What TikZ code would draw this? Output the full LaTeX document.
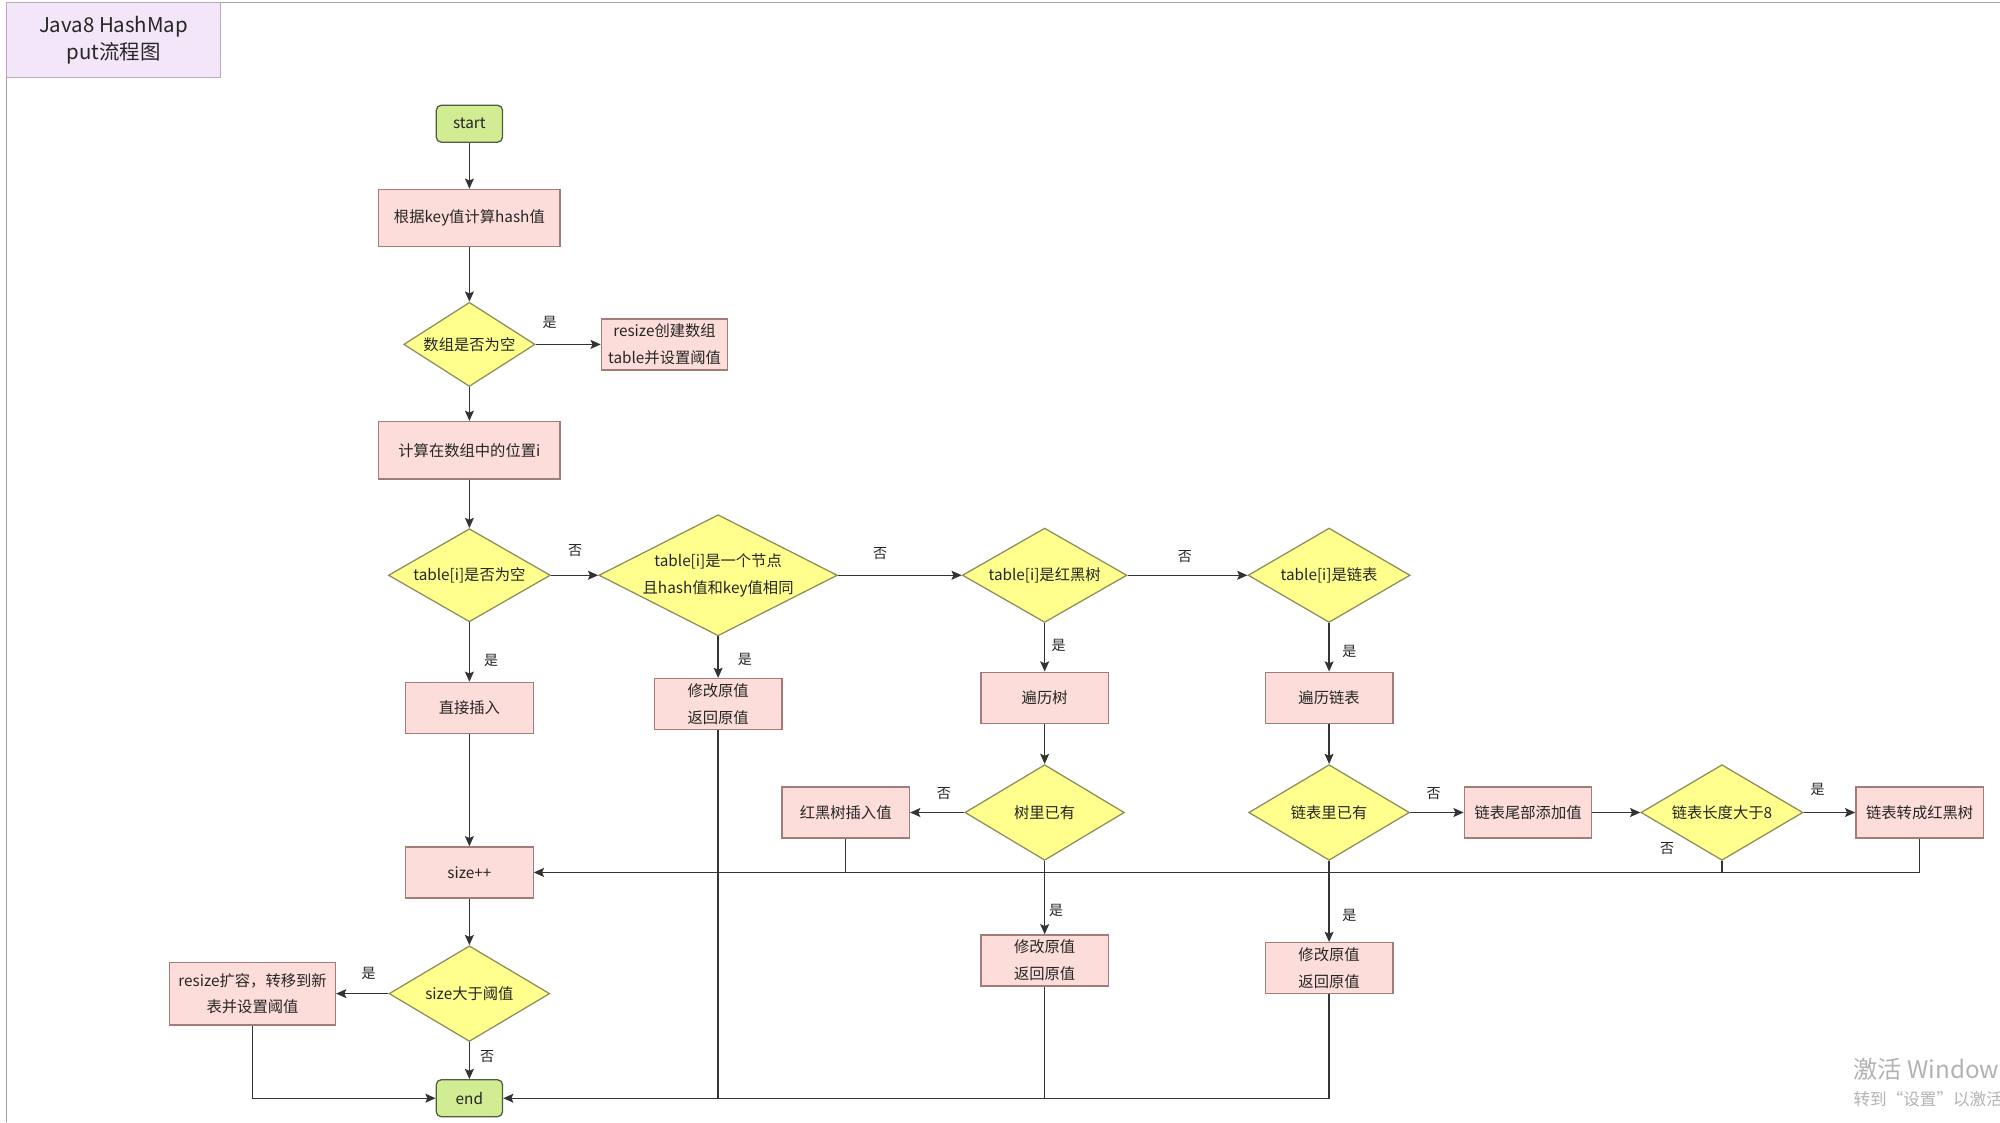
\documentclass[tikz,border=0pt]{standalone}
\usepackage{fontspec}
\setmainfont{Noto Sans CJK SC}
\usetikzlibrary{shapes.geometric,arrows.meta}

\definecolor{boxfill}{HTML}{FDDDD9}
\definecolor{boxline}{HTML}{A27C78}
\definecolor{condfill}{HTML}{FFFF8E}
\definecolor{condline}{HTML}{8E8E5C}
\definecolor{termfill}{HTML}{D2EC94}
\definecolor{termline}{HTML}{4E5E3C}
\definecolor{flowline}{HTML}{333333}
\definecolor{titlefill}{HTML}{F3E6F8}
\definecolor{titleline}{HTML}{B9A9C6}
\definecolor{frameline}{HTML}{A4A4A4}

\newcommand{\boxfont}{\fontsize{12}{21}\selectfont}
\newcommand{\lblfont}{\fontsize{11}{11}\selectfont}
\newcommand{\headfont}{\fontsize{16}{21}\selectfont}

\tikzset{
  proc/.style={rectangle, draw=boxline, fill=boxfill, line width=1pt, minimum width=100pt, minimum height=40pt, inner sep=2pt, align=center, text=black!85, font=\boxfont},
  cond/.style={diamond, draw=condline, fill=condfill, line width=1pt, shape aspect=1.75, inner sep=0pt, align=center, text=black!85, font=\boxfont},
  term/.style={rectangle, rounded corners=4pt, draw=termline, fill=termfill, line width=1pt, minimum width=52pt, minimum height=29pt, text=black!85, font=\boxfont},
  head/.style={rectangle, draw=titleline, fill=titlefill, line width=1pt, minimum width=168pt, minimum height=59pt, align=center, text=black!85, font=\headfont},
  flow/.style={draw=flowline, line width=1.1pt, -{Stealth[length=8pt,width=7pt,inset=1.5pt]}},
  link/.style={draw=flowline, line width=1.1pt},
  lbl/.style={font=\lblfont, inner sep=0pt, text=black!85},
}

\begin{document}
\begin{tikzpicture}[x=1pt,y=-1pt]
  \useasboundingbox (0,0) rectangle (1568,880);
  % frame and title
  \draw[frameline, line width=1pt] (5,880) -- (5,2) -- (1568,2);
  \node[head] (title) at (89,31.5) {Java8 HashMap\\put流程图};

  % main column
  \node[term] (start) at (368,97) {start};
  \node[proc, minimum width=142pt, minimum height=45pt] (hash) at (368,171) {根据key值计算hash值};
  \node[cond, minimum width=103pt, minimum height=66pt, shape aspect=1.56] (empty) at (368,270) {数组是否为空};
  \node[proc, minimum width=99pt] (init) at (521,270) {resize创建数组\\table并设置阈值};
  \node[proc, minimum width=142pt, minimum height=45pt] (index) at (368,353) {计算在数组中的位置i};
  \node[cond, minimum width=127pt, minimum height=73pt] (slot) at (368,451) {table[i]是否为空};
  \node[proc] (direct) at (368,555) {直接插入};
  \node[proc] (size) at (368,684) {size++};
  \node[cond, minimum width=126pt, minimum height=75pt] (over) at (368,779) {size大于阈值};
  \node[proc, minimum width=130pt, minimum height=49pt] (grow) at (198,779) {resize扩容，转移到新\\表并设置阈值};
  \node[term] (end) at (368,861) {end};

  % same key
  \node[cond, minimum width=187pt, minimum height=95pt, shape aspect=1.97, inner sep=-4pt] (same) at (563,451) {table[i]是一个节点\\且hash值和key值相同};
  \node[proc] (modA) at (563,552) {修改原值\\返回原值};

  % tree branch
  \node[cond, minimum width=129pt, minimum height=74pt] (istree) at (819,451) {table[i]是红黑树};
  \node[proc] (walktree) at (819,547) {遍历树};
  \node[cond, minimum width=125pt, minimum height=75pt] (treehas) at (819,637) {树里已有};
  \node[proc] (rbins) at (663,637) {红黑树插入值};
  \node[proc] (modB) at (819,753) {修改原值\\返回原值};

  % list branch
  \node[cond, minimum width=127pt, minimum height=74pt] (islist) at (1042,451) {table[i]是链表};
  \node[proc] (walklist) at (1042,547) {遍历链表};
  \node[cond, minimum width=126pt, minimum height=75pt] (listhas) at (1042,637) {链表里已有};
  \node[proc] (tail) at (1198,637) {链表尾部添加值};
  \node[cond, minimum width=127pt, minimum height=75pt] (longer) at (1350,637) {链表长度大于8};
  \node[proc] (totree) at (1505,637) {链表转成红黑树};
  \node[proc] (modC) at (1042,759) {修改原值\\返回原值};

  % connectors
  \draw[flow] (start) -- (hash);
  \draw[flow] (hash) -- (empty);
  \draw[flow] (empty) -- (init);
  \draw[flow] (empty) -- (index);
  \draw[flow] (index) -- (slot);
  \draw[flow] (slot) -- (same);
  \draw[flow] (same) -- (istree);
  \draw[flow] (istree) -- (islist);
  \draw[flow] (slot) -- (direct);
  \draw[flow] (same) -- (modA);
  \draw[flow] (istree) -- (walktree);
  \draw[flow] (islist) -- (walklist);
  \draw[flow] (walktree) -- (treehas);
  \draw[flow] (walklist) -- (listhas);
  \draw[flow] (treehas) -- (rbins);
  \draw[flow] (treehas) -- (modB);
  \draw[flow] (listhas) -- (tail);
  \draw[flow] (listhas) -- (modC);
  \draw[flow] (tail) -- (longer);
  \draw[flow] (longer) -- (totree);
  \draw[flow] (direct) -- (size);
  \draw[flow] (size) -- (over);
  \draw[flow] (over) -- (grow);
  \draw[flow] (over) -- (end);
  \draw[flow] (totree.south) |- (size.east);
  \draw[link] (longer.south) -- (longer.south |- size.east);
  \draw[link] (rbins.south) -- (rbins.south |- size.east);
  \draw[flow] (grow.south) |- (end.west);
  \draw[flow] (modC.south) |- (end.east);
  \draw[link] (modB.south) -- (modB.south |- end.east);
  \draw[link] (modA.south) -- (modA.south |- end.east);

  % branch labels
  \node[lbl] (y1) at (431,253) {是};
  \node[lbl] (n1) at (451,432) {否};
  \node[lbl] (n2) at (690,434) {否};
  \node[lbl] (n3) at (929,436) {否};
  \node[lbl] (y2) at (385,518) {是};
  \node[lbl] (y3) at (584,517) {是};
  \node[lbl] (y4) at (830,506) {是};
  \node[lbl] (y5) at (1058,511) {是};
  \node[lbl] (n4) at (740,622) {否};
  \node[lbl] (n5) at (1124,622) {否};
  \node[lbl] (y6) at (1425,619) {是};
  \node[lbl] (n6) at (1307,665) {否};
  \node[lbl] (y7) at (828,714) {是};
  \node[lbl] (y8) at (1058,718) {是};
  \node[lbl] (y9) at (289,763) {是};
  \node[lbl] (n7) at (382,828) {否};

  % watermark
  \node[anchor=west, inner sep=0pt, text=black!30, font=\fontsize{19}{19}\selectfont] (wm) at (1453,838) {激活 Windows};
  \node[anchor=west, inner sep=0pt, text=black!30, font=\fontsize{13}{13}\selectfont] (wmsub) at (1453,862) {转到“设置”以激活 Windows。};
\end{tikzpicture}
\end{document}
